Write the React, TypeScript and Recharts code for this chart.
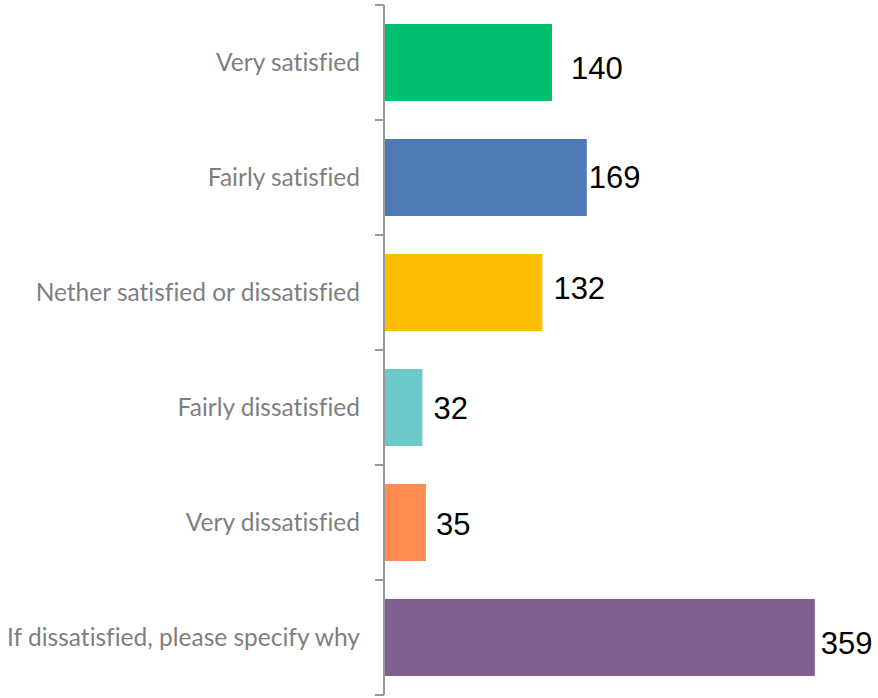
import React from "react";
import { BarChart, Bar, XAxis, YAxis, Cell, LabelList } from "recharts";

const categories = [
  "Very satisfied",
  "Fairly satisfied",
  "Nether satisfied or dissatisfied",
  "Fairly dissatisfied",
  "Very dissatisfied",
  "If dissatisfied, please specify why",
];
const counts = [140, 169, 132, 32, 35, 359];
const colors = ["#00BF6F", "#4E7BB6", "#FABD00", "#6BC9CC", "#FF8C50", "#7E5F8F"];

// label nudges (style only)
const labelDx = [19, 2, 11, 11, 10, 6];
const labelDy = [5.5, -0.5, -4.5, 0, 1.5, 5];

const W = 878;
const H = 698;
const MARGIN = { top: 5, right: 14, bottom: 3, left: 0 };
const AXIS_W = 384;
const BAND = (H - MARGIN.top - MARGIN.bottom) / categories.length;

const data = categories.map((name, i) => ({ name, value: counts[i] }));

const CatTick = (props: any) => {
  const { y, payload, index } = props;
  const ax = AXIS_W + MARGIN.left;
  const last = index === categories.length - 1;
  return (
    <g>
      <text
        x={ax - 24}
        y={y + 8.5}
        textAnchor="end"
        fill="#7F7F7F"
        fontFamily="Lato"
        fontSize={24.5}
        style={{ fontVariantLigatures: "none" }}
      >
        {payload.value}
      </text>
      <line x1={ax - 9} x2={ax} y1={y - BAND / 2} y2={y - BAND / 2} stroke="#999" strokeWidth={2} />
      {last && (
        <line x1={ax - 9} x2={ax} y1={y + BAND / 2} y2={y + BAND / 2} stroke="#999" strokeWidth={2} />
      )}
    </g>
  );
};

const renderLabel = (props: any) => {
  const { x, y, width, height, value, index } = props;
  const i = index ?? 0;
  return (
    <text
      x={x + width + labelDx[i]}
      y={y + height / 2 + 11 + labelDy[i]}
      textAnchor="start"
      fill="#000"
      fontFamily="'Liberation Sans', Arial"
      fontSize={31}
    >
      {value}
    </text>
  );
};

export default function App() {
  return (
    <div style={{ position: "absolute", left: 0, top: 0, width: W, height: H, background: "#fff" }}>
      <BarChart width={W} height={H} data={data} layout="vertical" margin={MARGIN}>
        <XAxis type="number" domain={[0, 400]} hide />
        <YAxis
          type="category"
          dataKey="name"
          width={AXIS_W}
          axisLine={{ stroke: "#999", strokeWidth: 2 }}
          tickLine={false}
          tick={<CatTick />}
          interval={0}
        />
        <Bar dataKey="value" barSize={77} isAnimationActive={false}>
          {data.map((d, i) => (
            <Cell key={d.name} fill={colors[i]} />
          ))}
          <LabelList dataKey="value" content={renderLabel} />
        </Bar>
      </BarChart>
    </div>
  );
}
